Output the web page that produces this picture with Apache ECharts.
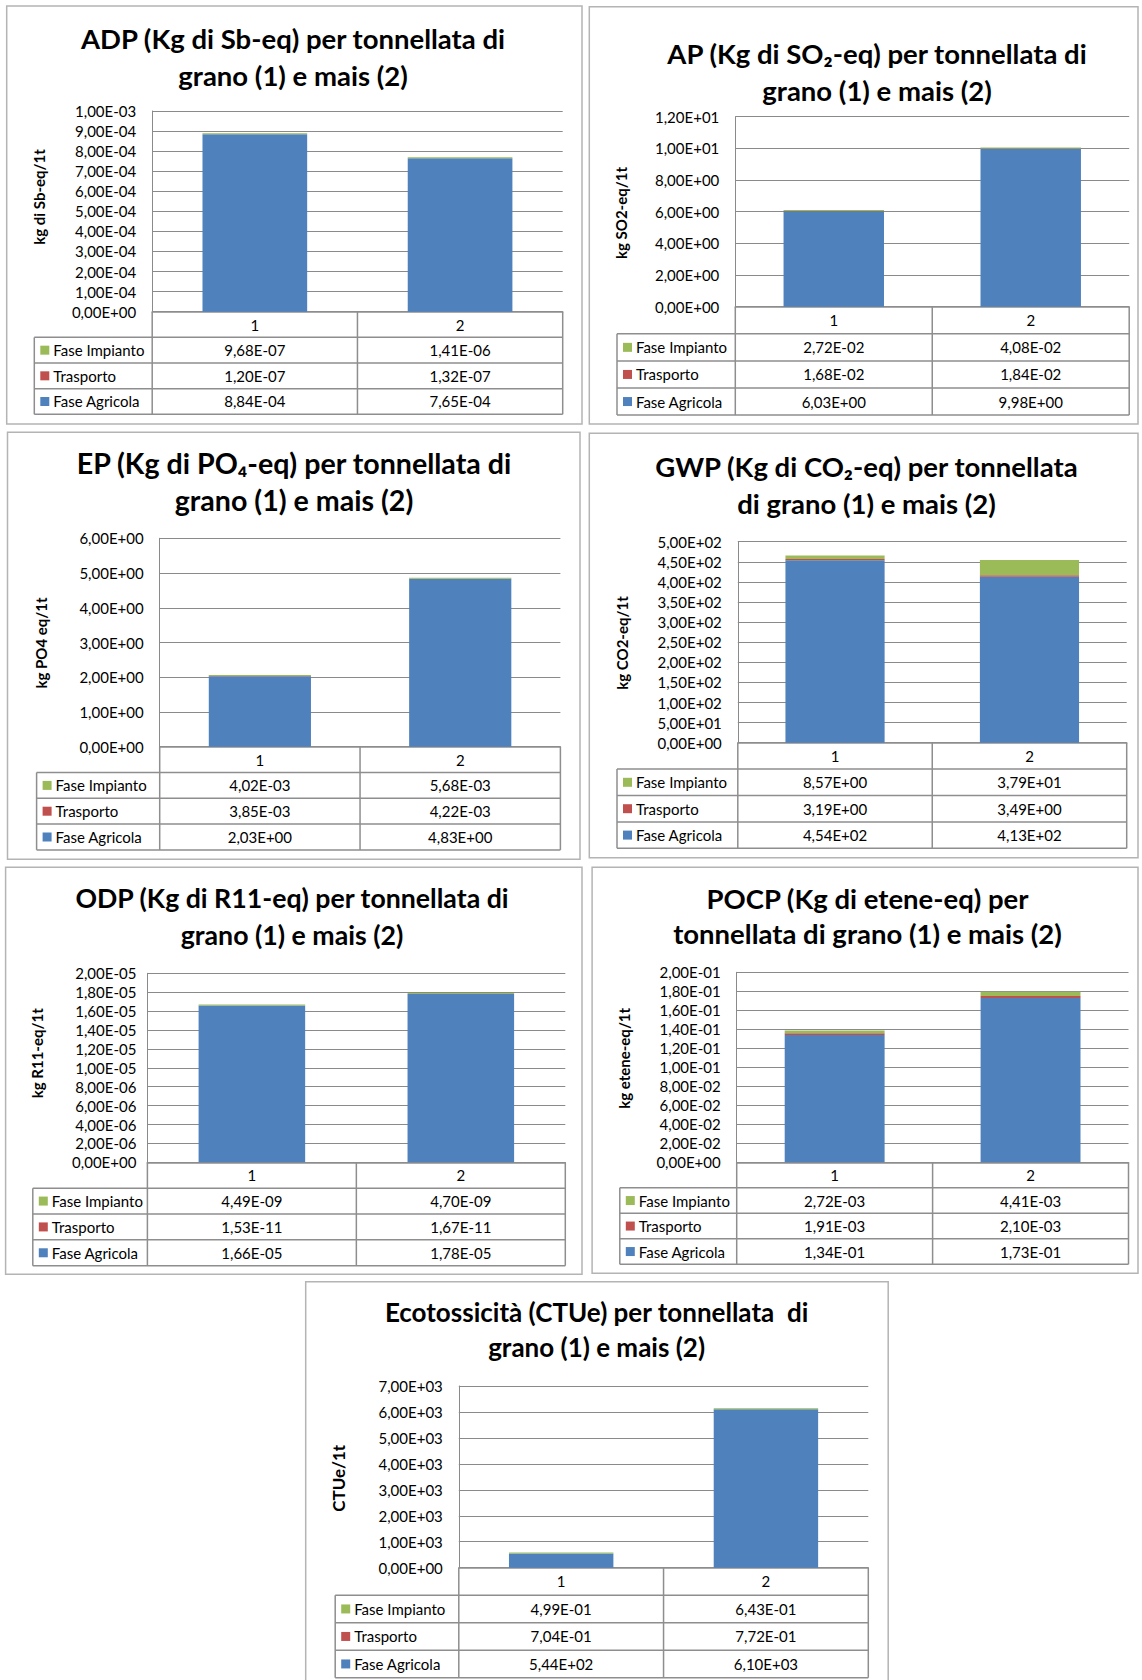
<!DOCTYPE html>
<html>
<head>
<meta charset="utf-8">
<script src="https://cdn.jsdelivr.net/npm/echarts@6/dist/echarts.min.js"></script>
<style>
  html, body { margin: 0; padding: 0; background: #ffffff; }
  #chart { width: 1142px; height: 1680px; }
</style>
</head>
<body>
<div id="chart"></div>
<script>
// Categories: 1 = grano, 2 = mais
const categories = ['1', '2'];
const phaseNames = ['Fase Impianto', 'Trasporto', 'Fase Agricola'];

// ADP (kg Sb-eq)
const adpImpianto = [9.68e-7, 1.41e-6];
const adpTrasporto = [1.20e-7, 1.32e-7];
const adpAgricola = [8.84e-4, 7.65e-4];
const adpTicks = [0, 1e-3, 1e-4];

// AP (kg SO2-eq)
const apImpianto = [2.72e-2, 4.08e-2];
const apTrasporto = [1.68e-2, 1.84e-2];
const apAgricola = [6.03, 9.98];
const apTicks = [0, 12, 2];

// EP (kg PO4-eq)
const epImpianto = [4.02e-3, 5.68e-3];
const epTrasporto = [3.85e-3, 4.22e-3];
const epAgricola = [2.03, 4.83];
const epTicks = [0, 6, 1];

// GWP (kg CO2-eq)
const gwpImpianto = [8.57, 37.9];
const gwpTrasporto = [3.19, 3.49];
const gwpAgricola = [454, 413];
const gwpTicks = [0, 500, 50];

// ODP (kg R11-eq)
const odpImpianto = [4.49e-9, 4.70e-9];
const odpTrasporto = [1.53e-11, 1.67e-11];
const odpAgricola = [1.66e-5, 1.78e-5];
const odpTicks = [0, 2e-5, 2e-6];

// POCP (kg etene-eq)
const pocpImpianto = [2.72e-3, 4.41e-3];
const pocpTrasporto = [1.91e-3, 2.10e-3];
const pocpAgricola = [1.34e-1, 1.73e-1];
const pocpTicks = [0, 0.2, 0.02];

// Ecotossicità (CTUe)
const ecoImpianto = [4.99e-1, 6.43e-1];
const ecoTrasporto = [7.04e-1, 7.72e-1];
const ecoAgricola = [5.44e2, 6.10e3];
const ecoTicks = [0, 7000, 1000];

const panels = [
  { title: ['ADP (Kg di Sb-eq) per tonnellata di', 'grano (1) e mais (2)'], yName: 'kg di Sb-eq/1t',
    ticks: adpTicks, impianto: adpImpianto, trasporto: adpTrasporto, agricola: adpAgricola },
  { title: ['AP (Kg di SO\u2082-eq) per tonnellata di', 'grano (1) e mais (2)'], yName: 'kg SO2-eq/1t',
    ticks: apTicks, impianto: apImpianto, trasporto: apTrasporto, agricola: apAgricola },
  { title: ['EP (Kg di PO\u2084-eq) per tonnellata di', 'grano (1) e mais (2)'], yName: 'kg PO4 eq/1t',
    ticks: epTicks, impianto: epImpianto, trasporto: epTrasporto, agricola: epAgricola },
  { title: ['GWP (Kg di CO\u2082-eq) per tonnellata', 'di grano (1) e mais (2)'], yName: 'kg CO2-eq/1t',
    ticks: gwpTicks, impianto: gwpImpianto, trasporto: gwpTrasporto, agricola: gwpAgricola },
  { title: ['ODP (Kg di R11-eq) per tonnellata di', 'grano (1) e mais (2)'], yName: 'kg R11-eq/1t',
    ticks: odpTicks, impianto: odpImpianto, trasporto: odpTrasporto, agricola: odpAgricola },
  { title: ['POCP (Kg di etene-eq) per', 'tonnellata di grano (1) e mais (2)'], yName: 'kg etene-eq/1t',
    ticks: pocpTicks, impianto: pocpImpianto, trasporto: pocpTrasporto, agricola: pocpAgricola },
  { title: ['Ecotossicità (CTUe) per tonnellata  di', 'grano (1) e mais (2)'], yName: 'CTUe/1t',
    ticks: ecoTicks, impianto: ecoImpianto, trasporto: ecoTrasporto, agricola: ecoAgricola }
];

// Page geometry of each chart panel (pixels)
const layout = [
  { box: [6.7, 6, 582, 424], plot: [152.2, 111, 562.7, 311.7], legendL: 34.3, rowH: 25.65,
    titleX: 293, titleY: [38, 75], titleSize: 27.5, nameX: 39, nameY: 197, nameSize: 15, labelGap: 16 },
  { box: [589.3, 6.7, 1138, 424], plot: [735.3, 116.7, 1129.2, 306.7], legendL: 617, rowH: 27.1,
    titleX: 877, titleY: [53.3, 90], titleSize: 27.5, nameX: 620.5, nameY: 213, nameSize: 15, labelGap: 16 },
  { box: [7.5, 432.3, 580, 859.3], plot: [159.7, 538.3, 560.4, 746.7], legendL: 36.6, rowH: 25.8,
    titleX: 294, titleY: [463.3, 500], titleSize: 28.6, nameX: 41, nameY: 643, nameSize: 15, labelGap: 16 },
  { box: [589.3, 433.3, 1138, 857.7], plot: [737.8, 541.7, 1126.7, 742.7], legendL: 617, rowH: 26.4,
    titleX: 866.5, titleY: [466.7, 503.3], titleSize: 27.5, nameX: 622.3, nameY: 643, nameSize: 15, labelGap: 16 },
  { box: [5.6, 867.3, 582, 1274.3], plot: [147.4, 973.3, 565.3, 1162.3], legendL: 32.8, rowH: 25.85,
    titleX: 292, titleY: [898.3, 935], titleSize: 26.7, nameX: 37.3, nameY: 1053.3, nameSize: 15, labelGap: 11 },
  { box: [592.1, 867.3, 1138, 1273.3], plot: [736.7, 972.3, 1128.5, 1162.3], legendL: 619.8, rowH: 25.5,
    titleX: 867.5, titleY: [898.3, 933.3], titleSize: 27.5, nameX: 624, nameY: 1058.3, nameSize: 15, labelGap: 16 },
  { box: [305.7, 1281.7, 888.2, 1700], plot: [458.8, 1386, 868.3, 1567.7], legendL: 335.2, rowH: 27.5,
    titleX: 596.6, titleY: [1311.7, 1346.7], titleSize: 26, nameX: 338.3, nameY: 1478.3, nameSize: 17, labelGap: 16 }
];

const COLOR_AGR = '#4F81BD';
const COLOR_TRA = '#C0504D';
const COLOR_IMP = '#9BBB59';
const FONT = 'Lato, "Open Sans", "DejaVu Sans", sans-serif';
const GRID_COLOR = '#8a8a8a';
const TABLE_COLOR = '#8e8e8e';
const TEXT_SIZE = 15;

// Italian-style scientific notation, e.g. 8,84E-04
function sci(v) {
  const s = Number(v).toExponential(2);
  const parts = s.split('e');
  const sign = parts[1][0] === '-' ? '-' : '+';
  let d = parts[1].replace(/[+-]/, '');
  if (d.length < 2) d = '0' + d;
  return parts[0].replace('.', ',') + 'E' + sign + d;
}

const grids = [], xAxes = [], yAxes = [], series = [], graphics = [];

panels.forEach(function (p, i) {
  const g = layout[i];
  const L = g.plot[0], T = g.plot[1], R = g.plot[2], B = g.plot[3];

  grids.push({ left: L, top: T, width: R - L, height: B - T });

  xAxes.push({
    type: 'category', gridIndex: i, data: categories,
    axisLine: { show: true, lineStyle: { color: TABLE_COLOR, width: 1.5 } },
    axisTick: { show: false },
    axisLabel: { margin: g.rowH / 2, verticalAlign: 'middle', fontSize: TEXT_SIZE, color: '#000',
      fontFamily: FONT, interval: 0 },
    splitLine: { show: false }
  });

  yAxes.push({
    type: 'value', gridIndex: i, min: p.ticks[0], max: p.ticks[1], interval: p.ticks[2],
    axisLine: { show: true, lineStyle: { color: GRID_COLOR, width: 1 } },
    axisTick: { show: false },
    axisLabel: { formatter: sci, margin: g.labelGap, fontSize: TEXT_SIZE, color: '#000', fontFamily: FONT },
    splitLine: { show: true, lineStyle: { color: GRID_COLOR, width: 1 } }
  });

  const stack = 'stack' + i;
  series.push({ name: 'Fase Agricola', type: 'bar', stack: stack, xAxisIndex: i, yAxisIndex: i,
    barWidth: '51%', data: p.agricola, itemStyle: { color: COLOR_AGR }, silent: true });
  series.push({ name: 'Trasporto', type: 'bar', stack: stack, xAxisIndex: i, yAxisIndex: i,
    barWidth: '51%', data: p.trasporto, itemStyle: { color: COLOR_TRA }, silent: true });
  series.push({ name: 'Fase Impianto', type: 'bar', stack: stack, xAxisIndex: i, yAxisIndex: i,
    barWidth: '51%', barMinHeight: 1, data: p.impianto, itemStyle: { color: COLOR_IMP }, silent: true });

  // chart frame
  graphics.push({ type: 'rect', z: 0, silent: true,
    shape: { x: g.box[0], y: g.box[1], width: g.box[2] - g.box[0], height: g.box[3] - g.box[1] },
    style: { fill: 'none', stroke: '#b4b4b4', lineWidth: 1.5 } });

  // title
  p.title.forEach(function (line, k) {
    graphics.push({ type: 'text', silent: true,
      style: { text: line, x: g.titleX, y: g.titleY[k], align: 'center', verticalAlign: 'middle',
        fontSize: g.titleSize, fontWeight: 'bold', fontFamily: FONT, fill: '#000' } });
  });

  // vertical axis title
  graphics.push({ type: 'text', silent: true, x: g.nameX, y: g.nameY, rotation: Math.PI / 2,
    style: { text: p.yName, x: 0, y: 0, align: 'center', verticalAlign: 'middle',
      fontSize: g.nameSize, fontWeight: 'bold', fontFamily: FONT, fill: '#000' } });

  // data table under the plot
  const lineStyle = { stroke: TABLE_COLOR, lineWidth: 1.5 };
  const mid = (L + R) / 2;
  const bottom = B + 4 * g.rowH;
  [L, mid, R].forEach(function (x) {
    graphics.push({ type: 'line', silent: true, shape: { x1: x, y1: B, x2: x, y2: bottom }, style: lineStyle });
  });
  graphics.push({ type: 'line', silent: true,
    shape: { x1: g.legendL, y1: B + g.rowH, x2: g.legendL, y2: bottom }, style: lineStyle });
  for (let r = 1; r <= 4; r++) {
    const y = B + r * g.rowH;
    graphics.push({ type: 'line', silent: true, shape: { x1: g.legendL, y1: y, x2: R, y2: y }, style: lineStyle });
  }

  const rows = [
    { name: phaseNames[0], color: COLOR_IMP, values: p.impianto },
    { name: phaseNames[1], color: COLOR_TRA, values: p.trasporto },
    { name: phaseNames[2], color: COLOR_AGR, values: p.agricola }
  ];
  rows.forEach(function (row, k) {
    const cy = B + g.rowH * (k + 1.5);
    graphics.push({ type: 'rect', silent: true,
      shape: { x: g.legendL + 6, y: cy - 4.5, width: 9, height: 9 }, style: { fill: row.color } });
    graphics.push({ type: 'text', silent: true,
      style: { text: row.name, x: g.legendL + 19, y: cy, align: 'left', verticalAlign: 'middle',
        fontSize: TEXT_SIZE, fontFamily: FONT, fill: '#000' } });
    row.values.forEach(function (v, c) {
      const cx = c === 0 ? (L + mid) / 2 : (mid + R) / 2;
      graphics.push({ type: 'text', silent: true,
        style: { text: sci(v), x: cx, y: cy, align: 'center', verticalAlign: 'middle',
          fontSize: TEXT_SIZE, fontFamily: FONT, fill: '#000' } });
    });
  });
});

const chart = echarts.init(document.getElementById('chart'), null, { renderer: 'svg', width: 1142, height: 1680 });
chart.setOption({
  animation: false,
  backgroundColor: '#ffffff',
  textStyle: { fontFamily: FONT },
  grid: grids,
  xAxis: xAxes,
  yAxis: yAxes,
  series: series,
  graphic: graphics
});
</script>
</body>
</html>
